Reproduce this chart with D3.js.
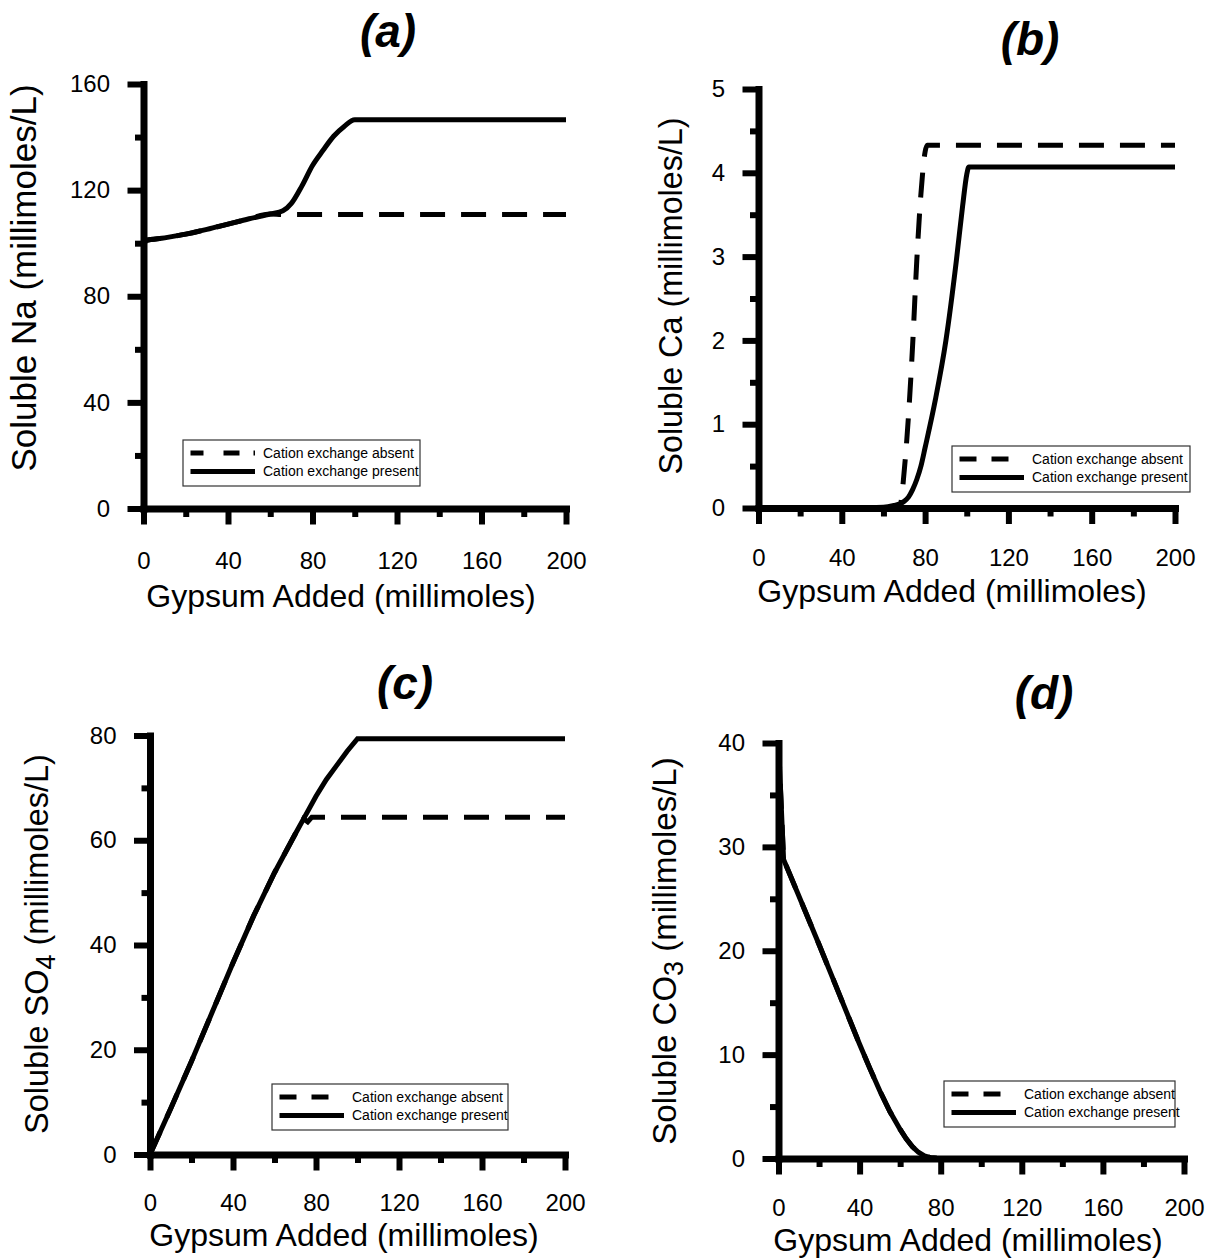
<!DOCTYPE html>
<html>
<head>
<meta charset="utf-8">
<script src="https://d3js.org/d3.v7.min.js"></script>
<style>
  body { margin: 0; background: #fff; }
  svg { display: block; font-family: Arial, "Liberation Sans", sans-serif; }
  .domain { stroke: #000; stroke-width: 7px; stroke-linecap: square; }
  .tick line { stroke: #000; stroke-width: 6px; }
  .tick text { font-family: Arial, "Liberation Sans", sans-serif; font-size: 24px; fill: #000; }
  .curve { fill: none; stroke: #000; stroke-width: 5px; }
  .dashed { stroke-dasharray: 25 16; }
  .title { font-size: 46px; font-weight: bold; font-style: italic; text-anchor: middle; }
  .axis-title { font-size: 32px; text-anchor: middle; }
  .legend-text { font-size: 14px; }
</style>
</head>
<body>
<svg id="chart" width="1225" height="1260"></svg>
<script>
// x axis, shared by all four panels
const gypsumTicks = [0, 40, 80, 120, 160, 200];
const gypsumMinor = [20, 60, 100, 140, 180];
const legendLabels = ["Cation exchange absent", "Cation exchange present"];

// (a) soluble Na
const naTicks = [0, 40, 80, 120, 160];
const naMinor = [20, 60, 100, 140];
const naPresentX = [0, 1, 10, 20, 30, 40, 50, 60, 66, 70, 75, 80, 85, 90, 95, 100, 140, 200];
const naPresent  = [97.5, 101, 102, 103.4, 105.2, 107.2, 109.2, 111, 112.2, 115, 121.6, 129.3, 135, 140.3, 144, 146.5, 146.5, 146.5];
const naAbsentX  = [0, 1, 10, 20, 30, 40, 50, 60, 66, 80, 200];
const naAbsent   = [97.5, 101, 102, 103.4, 105.2, 107.2, 109.2, 111, 110.8, 110.8, 110.8];

// (b) soluble Ca
const caTicks = [0, 1, 2, 3, 4, 5];
const caMinor = [0.5, 1.5, 2.5, 3.5, 4.5];
const caPresentX = [0, 40, 60, 65, 68, 70, 72, 74, 76, 78, 80, 85, 90, 95, 98, 100, 101, 150, 200];
const caPresent  = [0, 0, 0.01, 0.03, 0.05, 0.08, 0.13, 0.22, 0.34, 0.5, 0.72, 1.3, 2.0, 2.95, 3.6, 3.98, 4.07, 4.07, 4.07];
const caAbsentX  = [0, 40, 66, 68, 70, 72, 74, 76, 78, 80, 81, 150, 200];
const caAbsent   = [0, 0, 0, 0.03, 0.45, 1.09, 1.94, 2.95, 3.75, 4.25, 4.33, 4.33, 4.33];

// (c) soluble SO4
const so4Ticks = [0, 20, 40, 60, 80];
const so4Minor = [10, 30, 50, 70];
const so4PresentX = [0, 10, 20, 30, 40, 50, 60, 70, 75, 80, 85, 90, 95, 100, 150, 200];
const so4Present  = [0, 8.8, 17.8, 27.2, 36.6, 45.6, 53.8, 61.2, 64.8, 68.4, 71.6, 74.3, 77, 79.4, 79.4, 79.4];
const so4AbsentX  = [0, 10, 20, 30, 40, 50, 60, 70, 74, 76, 78, 150, 200];
const so4Absent   = [0, 8.8, 17.8, 27.2, 36.6, 45.6, 53.8, 61.2, 64.1, 63.5, 64.4, 64.4, 64.4];

// (d) soluble CO3 (both runs coincide)
const co3Ticks = [0, 10, 20, 30, 40];
const co3Minor = [5, 15, 25, 35];
const co3X       = [0, 2.5, 10, 20, 30, 40, 45, 50, 55, 60, 63, 66, 69, 72, 75, 78, 82, 140, 200];
const co3Present = [40, 28.8, 25.3, 20.6, 15.8, 11.0, 8.7, 6.5, 4.5, 2.8, 1.9, 1.15, 0.6, 0.25, 0.08, 0.02, 0, 0, 0];
const co3Absent  = [40, 28.8, 25.3, 20.6, 15.8, 11.0, 8.7, 6.5, 4.5, 2.8, 1.9, 1.15, 0.6, 0.25, 0.08, 0.02, 0, 0, 0];

const panels = [
  { label: "(a)", yMain: "Soluble Na", ySub: "", yMax: 160, yTicks: naTicks, yMinor: naMinor,
    present: d3.zip(naPresentX, naPresent), absent: d3.zip(naAbsentX, naAbsent), curve: d3.curveMonotoneX,
    box: { left: 143.5, right: 566, bottom: 508.5, top: 84 }, xPad: 27,
    title: [388, 47], xTitle: [341, 607], yTitle: [36, 278, 35], legend: [183, 440, 237] },
  { label: "(b)", yMain: "Soluble Ca", ySub: "", yMax: 5, yTicks: caTicks, yMinor: caMinor,
    present: d3.zip(caPresentX, caPresent), absent: d3.zip(caAbsentX, caAbsent), curve: d3.curveMonotoneX,
    box: { left: 758.5, right: 1175, bottom: 508, top: 89 }, xPad: 25,
    title: [1030, 55], xTitle: [952, 602], yTitle: [682, 296, 32.3], legend: [952, 446, 238] },
  { label: "(c)", yMain: "Soluble SO", ySub: "4", yMax: 80, yTicks: so4Ticks, yMinor: so4Minor,
    present: d3.zip(so4PresentX, so4Present), absent: d3.zip(so4AbsentX, so4Absent), curve: d3.curveLinear,
    box: { left: 150, right: 565, bottom: 1154.5, top: 735.5 }, xPad: 23.5,
    title: [405, 699], xTitle: [344, 1246], yTitle: [48, 944, 32.5], legend: [272, 1084, 236] },
  { label: "(d)", yMain: "Soluble CO", ySub: "3", yMax: 40, yTicks: co3Ticks, yMinor: co3Minor,
    present: d3.zip(co3X, co3Present), absent: d3.zip(co3X, co3Absent), curve: d3.curveLinear,
    box: { left: 778.5, right: 1184, bottom: 1158.5, top: 743 }, xPad: 24,
    title: [1044, 709], xTitle: [968, 1251], yTitle: [676, 951, 33], legend: [944, 1081, 231] }
];

const svg = d3.select("#chart");

panels.forEach(p => {
  const x = d3.scaleLinear().domain([0, 200]).range([p.box.left, p.box.right]);
  const y = d3.scaleLinear().domain([0, p.yMax]).range([p.box.bottom, p.box.top]);
  const g = svg.append("g");

  // minor ticks first, no labels
  g.append("g")
    .attr("transform", `translate(0,${p.box.bottom})`)
    .call(d3.axisBottom(x).tickValues(gypsumMinor).tickSize(8.5).tickSizeOuter(0).tickFormat(""))
    .call(s => s.select(".domain").remove());
  g.append("g")
    .attr("transform", `translate(${p.box.left},0)`)
    .call(d3.axisLeft(y).tickValues(p.yMinor).tickSize(8.5).tickSizeOuter(0).tickFormat(""))
    .call(s => s.select(".domain").remove());

  // major ticks + axis lines
  g.append("g")
    .attr("transform", `translate(0,${p.box.bottom})`)
    .call(d3.axisBottom(x).tickValues(gypsumTicks).tickSize(16).tickPadding(p.xPad).tickSizeOuter(0));
  g.append("g")
    .attr("transform", `translate(${p.box.left},0)`)
    .call(d3.axisLeft(y).tickValues(p.yTicks).tickSize(16).tickPadding(17.5).tickSizeOuter(0)
      .tickFormat(d3.format("d")));

  const line = d3.line()
    .curve(p.curve)
    .x(d => x(d[0]))
    .y(d => y(d[1]));

  g.append("path").datum(p.absent).attr("class", "curve dashed").attr("d", line);
  g.append("path").datum(p.present).attr("class", "curve").attr("d", line);

  // titles
  g.append("text").attr("class", "title")
    .attr("x", p.title[0]).attr("y", p.title[1]).text(p.label);

  g.append("text").attr("class", "axis-title")
    .attr("x", p.xTitle[0]).attr("y", p.xTitle[1])
    .text("Gypsum Added (millimoles)");

  const yt = g.append("text").attr("class", "axis-title")
    .style("font-size", p.yTitle[2] + "px")
    .attr("transform", `translate(${p.yTitle[0]},${p.yTitle[1]}) rotate(-90)`);
  yt.append("tspan").text(p.yMain);
  if (p.ySub) {
    yt.append("tspan").attr("dy", 7).style("font-size", "27px").text(p.ySub);
    yt.append("tspan").attr("dy", -7).text(" (millimoles/L)");
  } else {
    yt.append("tspan").text(" (millimoles/L)");
  }

  // legend
  const [lx, ly, lw] = p.legend;
  const lg = g.append("g").attr("transform", `translate(${lx},${ly})`);
  lg.append("rect")
    .attr("width", lw).attr("height", 46)
    .attr("fill", "#fff").attr("stroke", "#333").attr("stroke-width", 1.2);
  const rows = [13, 31.5];
  legendLabels.forEach((lab, i) => {
    lg.append("line")
      .attr("x1", 7.5).attr("x2", 72)
      .attr("y1", rows[i]).attr("y2", rows[i])
      .attr("stroke", "#000").attr("stroke-width", 5)
      .attr("stroke-dasharray", i === 0 ? (p.label === "(a)" ? "13 20 16 14" : "17 15 17 20") : null);
    lg.append("text").attr("class", "legend-text")
      .attr("x", 80).attr("y", rows[i] + 4.8)
      .text(lab);
  });
});
</script>
</body>
</html>
